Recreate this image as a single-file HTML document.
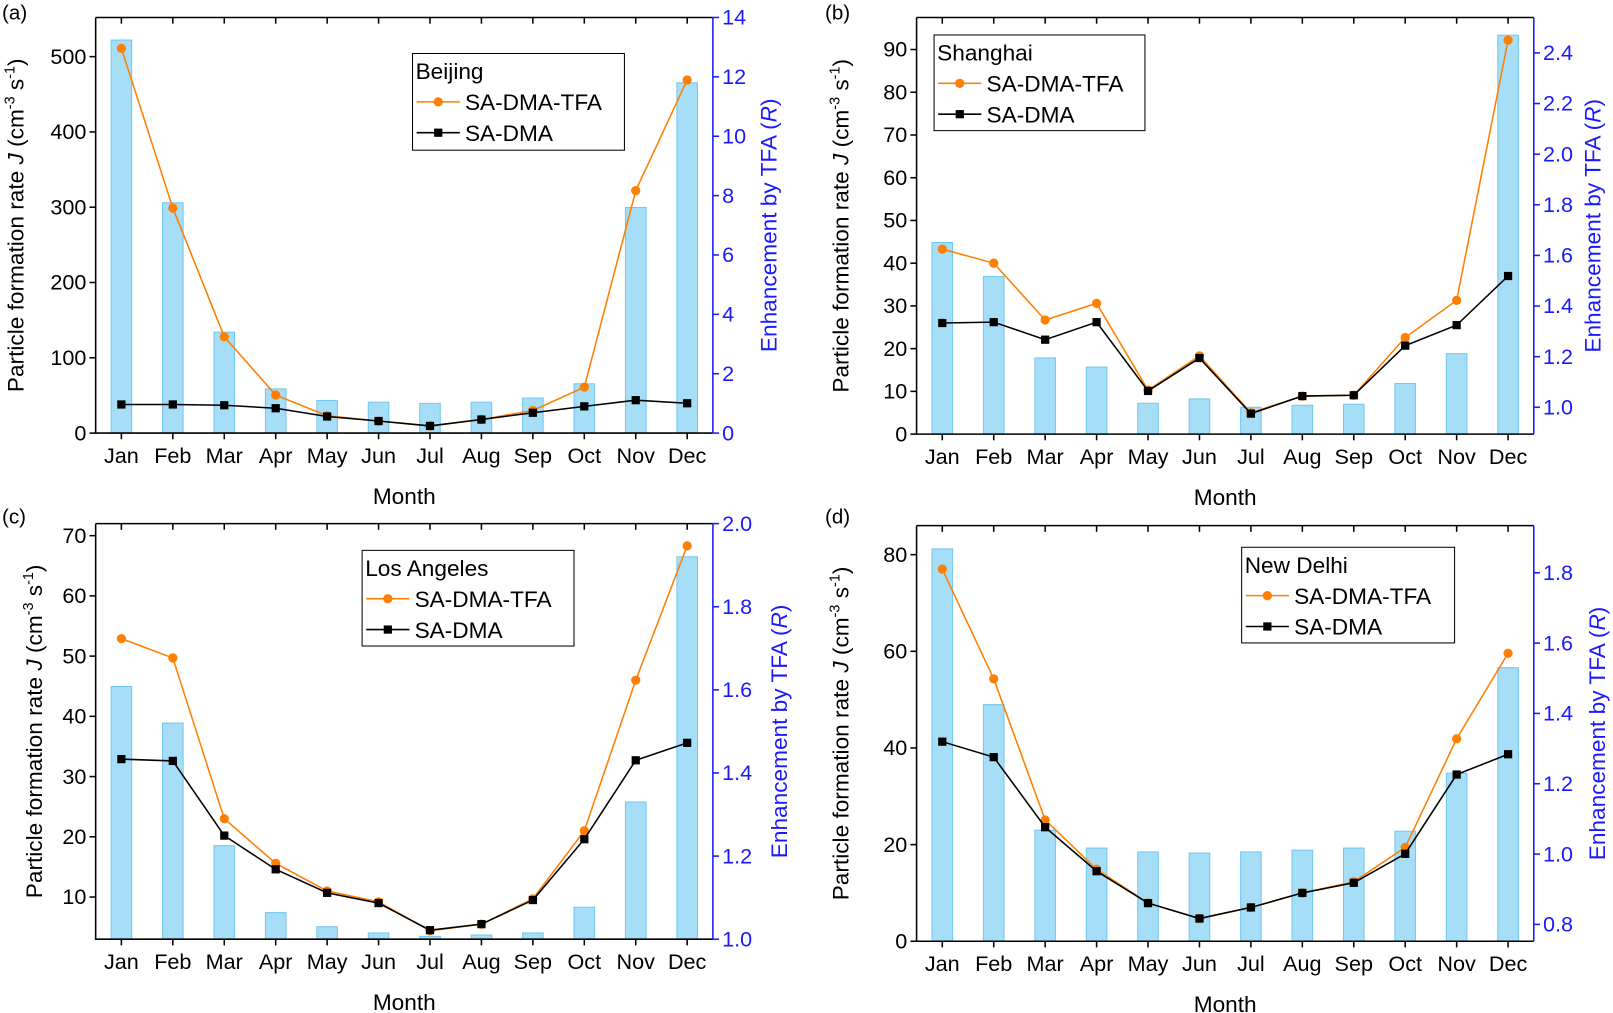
<!DOCTYPE html>
<html><head><meta charset="utf-8"><style>
body{margin:0;background:#fff}
svg{display:block;font-family:"Liberation Sans",Arial,sans-serif}
</style></head><body>
<svg width="1613" height="1013" viewBox="0 0 1613 1013"><g id="c" transform="scale(1.0287)"></g></svg>
<script>
const months=["Jan","Feb","Mar","Apr","May","Jun","Jul","Aug","Sep","Oct","Nov","Dec"];
const bjBars=[13.24,7.76,3.4,1.49,1.1,1.04,1.0,1.04,1.18,1.66,7.6,11.8];
const bjTFA=[511,299,128,50.5,23,16,9.5,18,30,61,322,469];
const bjDMA=[38,38,37,33,22,16,9.5,18,27,35.5,43.7,39.6];
const shBars=[1.651,1.517,1.195,1.159,1.016,1.033,1.0,1.008,1.012,1.094,1.212,2.47];
const shTFA=[43.3,40,26.7,30.6,10.3,18.3,5,8.9,9.1,22.6,31.3,92.2];
const shDMA=[26,26.2,22.1,26.2,10.1,17.8,4.8,8.9,9.1,20.7,25.5,37];
const laBars=[1.608,1.52,1.225,1.064,1.03,1.015,1.007,1.01,1.015,1.077,1.33,1.92];
const laTFA=[52.9,49.7,23,15.6,11,9.2,4.4,5.5,9.7,21,46,68.3];
const laDMA=[32.9,32.6,20.2,14.6,10.7,9.0,4.5,5.5,9.5,19.6,32.7,35.6];
const ndBars=[1.868,1.425,1.068,1.017,1.006,1.003,1.006,1.011,1.017,1.065,1.23,1.53];
const ndTFA=[77,54.3,25.1,14.9,7.9,4.7,7,10,12.3,19.4,41.9,59.6];
const ndDMA=[41.3,38.1,23.6,14.5,7.9,4.7,7,10,12.1,18.1,34.5,38.7];
const bjLeftTicks=[0,100,200,300,400,500], bjRightTicks=[0,2,4,6,8,10,12,14];
const shLeftTicks=[0,10,20,30,40,50,60,70,80,90], shRightTicks=[1.0,1.2,1.4,1.6,1.8,2.0,2.2,2.4];
const laLeftTicks=[10,20,30,40,50,60,70], laRightTicks=[1.0,1.2,1.4,1.6,1.8,2.0];
const ndLeftTicks=[0,20,40,60,80], ndRightTicks=[0.8,1.0,1.2,1.4,1.6,1.8];

const NS="http://www.w3.org/2000/svg";
const svg=document.getElementById('c');
function mk(tag,attrs,parent,text){const e=document.createElementNS(NS,tag);for(const k in attrs)e.setAttribute(k,attrs[k]);if(text!==undefined)e.textContent=text;(parent||svg).appendChild(e);return e;}

const panels=[
 {id:'a',x0:93,x1:693,y0:17,y1:421,ld:[0,552],rd:[0,14],lt:bjLeftTicks,rt:bjRightTicks,rdec:0,bars:bjBars,tfa:bjTFA,dma:bjDMA,city:'Beijing',lg:[401,52,206,94],lab:[0,15],ltx:15,rtx:747,mty:482},
 {id:'b',x0:891,x1:1491,y0:17,y1:422,ld:[0,97.5],rd:[0.894,2.54],lt:shLeftTicks,rt:shRightTicks,rdec:1,bars:shBars,tfa:shTFA,dma:shDMA,city:'Shanghai',lg:[908,34,205,93],lab:[800,15],ltx:817,rtx:1548,mty:483},
 {id:'c',x0:93,x1:693,y0:509,y1:913,ld:[3,72],rd:[1.0,2.0],lt:laLeftTicks,rt:laRightTicks,rdec:1,bars:laBars,tfa:laTFA,dma:laDMA,city:'Los Angeles',lg:[352,535,206,93],lab:[0,505],ltx:33,rtx:757,mty:974},
 {id:'d',x0:891,x1:1491,y0:511,y1:915,ld:[0,86],rd:[0.752,1.934],lt:ndLeftTicks,rt:ndRightTicks,rdec:1,bars:ndBars,tfa:ndTFA,dma:ndDMA,city:'New Delhi',lg:[1207,532,207,93],lab:[800,505],ltx:817,rtx:1552,mty:976}
];
const BLUE='#1a1aff', ORANGE='#ff7f00', BARF='#a6ddf7', BARS='#72c8ef';
panels.forEach(p=>{
 const g=mk('g',{});
 
 
 const xs=i=>p.x0+25+i*50;
 const yl=v=>p.y1-(v-p.ld[0])/(p.ld[1]-p.ld[0])*(p.y1-p.y0);
 const yr=v=>p.y1-(v-p.rd[0])/(p.rd[1]-p.rd[0])*(p.y1-p.y0);
 p.bars.forEach((v,i)=>{
  const r=mk('rect',{x:xs(i)-10,y:yr(v),width:20,height:p.y1-yr(v),fill:BARF,stroke:BARS,'stroke-width':1},g);
  
  
 });
 const fr=mk('path',{d:`M${p.x0},${p.y0}H${p.x1}M${p.x0},${p.y0}V${p.y1}H${p.x1}`,stroke:'#000','stroke-width':1.5,fill:'none'},g);
 
 
 mk('line',{x1:p.x1,y1:p.y0,x2:p.x1,y2:p.y1,stroke:BLUE,'stroke-width':1.5},g);
 months.forEach((m,i)=>{
  mk('line',{x1:xs(i),x2:xs(i),y1:p.y1,y2:p.y1+6,stroke:'#000','stroke-width':1.5},g);
  mk('line',{x1:xs(i),x2:xs(i),y1:p.y0,y2:p.y0+6,stroke:'#000','stroke-width':1.5},g);
  const t=mk('text',{x:xs(i),y:p.y1+29,'font-size':21,'text-anchor':'middle'},g,m);
  
  
 });
 p.lt.forEach(v=>{
  mk('line',{x1:p.x0-6,x2:p.x0,y1:yl(v),y2:yl(v),stroke:'#000','stroke-width':1.5},g);
  const t=mk('text',{x:p.x0-9,y:yl(v)+7,'font-size':21,'text-anchor':'end'},g,String(v));
  
  
 });
 p.rt.forEach(v=>{
  mk('line',{x1:p.x1,x2:p.x1+6,y1:yr(v),y2:yr(v),stroke:BLUE,'stroke-width':1.5},g);
  const t=mk('text',{x:p.x1+9,y:yr(v)+7,'font-size':21,fill:BLUE},g,v.toFixed(p.rdec));
  
  
 });
 const series=[[p.tfa,ORANGE,'sa-dma-tfa-line'],[p.dma,'#000','sa-dma-line']];
 series.forEach(([d,col,nm])=>{
  const pl=mk('polyline',{points:d.map((v,i)=>xs(i)+','+yl(v)).join(' '),fill:'none',stroke:col,'stroke-width':1.5},g);
  
  
  d.forEach((v,i)=>{
   const m= col==='#000'? mk('rect',{x:xs(i)-4,y:yl(v)-4,width:8,height:8,fill:'#000'},g) : mk('circle',{cx:xs(i),cy:yl(v),r:4.5,fill:ORANGE},g);
   
   
  });
 });
 const [lx,ly,lw,lh]=p.lg;
 const lg=mk('g',{},g);
 
 
 mk('rect',{x:lx,y:ly,width:lw,height:lh,fill:'#fff',stroke:'#000','stroke-width':1},lg);
 mk('text',{x:lx+3,y:ly+25,'font-size':22},lg,p.city);
 mk('line',{x1:lx+4,x2:lx+46,y1:ly+47,y2:ly+47,stroke:ORANGE,'stroke-width':1.5},lg);
 mk('circle',{cx:lx+25,cy:ly+47,r:4.5,fill:ORANGE},lg);
 mk('text',{x:lx+51,y:ly+55,'font-size':22},lg,'SA-DMA-TFA');
 mk('line',{x1:lx+4,x2:lx+46,y1:ly+77,y2:ly+77,stroke:'#000','stroke-width':1.5},lg);
 mk('rect',{x:lx+21,y:ly+73,width:8,height:8,fill:'#000'},lg);
 mk('text',{x:lx+51,y:ly+85,'font-size':22},lg,'SA-DMA');
 const mt=mk('text',{x:(p.x0+p.x1)/2,y:p.mty+8,'font-size':22,'text-anchor':'middle'},g,'Month');
 
 
 const cy=(p.y0+p.y1)/2;
 const lt=mk('text',{x:0,y:0,'font-size':22,'text-anchor':'middle',transform:`translate(${p.ltx+8},${cy}) rotate(-90)`},g);
 
 
 lt.innerHTML='Particle formation rate <tspan font-style="italic">J</tspan> (cm<tspan dy="-9" font-size="14">-3</tspan><tspan dy="9"> s</tspan><tspan dy="-9" font-size="14">-1</tspan><tspan dy="9">)</tspan>';
 const rt=mk('text',{x:0,y:0,'font-size':22,'text-anchor':'middle',fill:BLUE,transform:`translate(${p.rtx+8},${cy}) rotate(-90)`},g);
 
 
 rt.innerHTML='Enhancement by TFA (<tspan font-style="italic">R</tspan>)';
 const pl=mk('text',{x:p.lab[0]+2,y:p.lab[1]+4,'font-size':20},g,'('+p.id+')');
 
 
});
</script>
</body></html>
